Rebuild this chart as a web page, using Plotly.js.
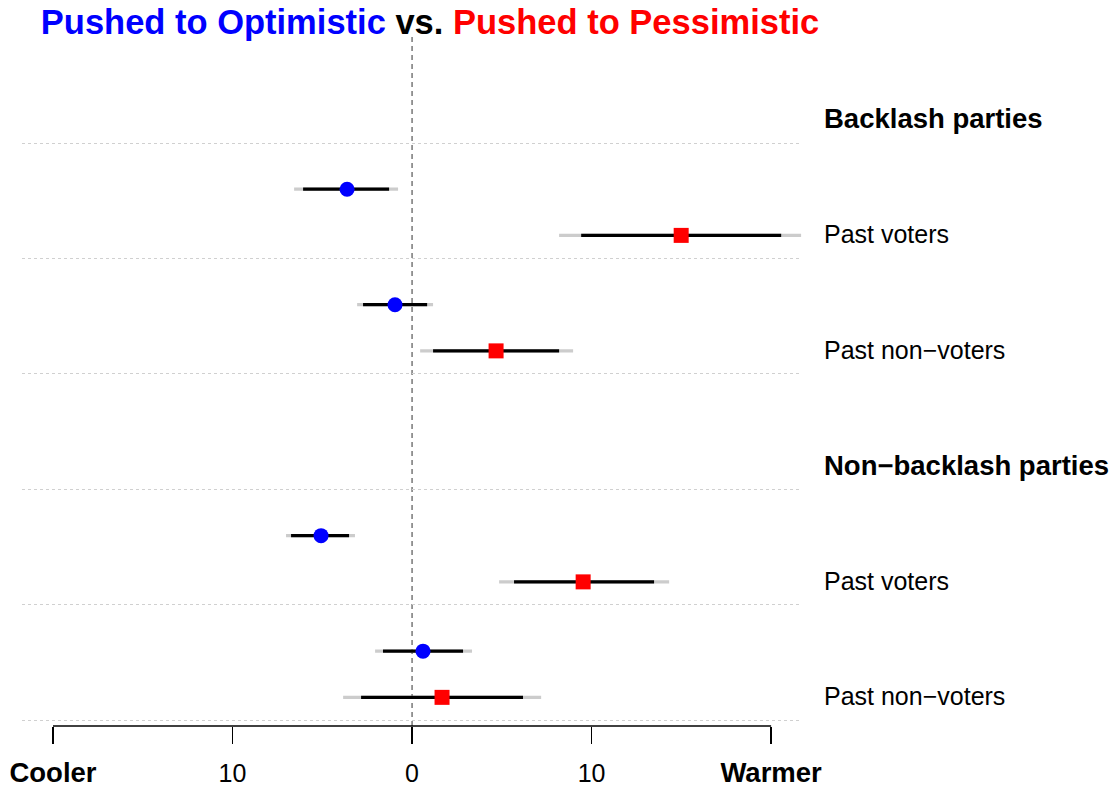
<!DOCTYPE html>
<html>
<head>
<meta charset="utf-8">
<script src="https://cdn.plot.ly/plotly-3.0.1.min.js"></script>
<style>html,body{margin:0;padding:0;background:#fff;}#chart{width:1116px;height:788px;}</style>
</head>
<body>
<div id="chart"></div>
<script>
// ---- data ----
var groupLabels = ["Backlash parties", "Non\u2212backlash parties"];
var rowLabels = ["Past voters", "Past non\u2212voters", "Past voters", "Past non\u2212voters"];
var rowSection = [0, 1, 3, 4];          // section slot of each row (slot 2 holds the 2nd group heading)

// Pushed to Optimistic (blue)
var optEst  = [-3.62, -0.95, -5.07, 0.61];
var optLo90 = [-6.07, -2.73, -6.74, -1.62];
var optHi90 = [-1.28,  0.84, -3.51,  2.84];
var optLo95 = [-6.57, -3.06, -7.02, -2.06];
var optHi95 = [-0.78,  1.17, -3.18,  3.34];

// Pushed to Pessimistic (red)
var pesEst  = [14.99, 4.68,  9.53, 1.67];
var pesLo90 = [ 9.42, 1.17,  5.68, -2.84];
var pesHi90 = [20.56, 8.19, 13.48,  6.18];
var pesLo95 = [ 8.19, 0.45,  4.85, -3.84];
var pesHi95 = [21.67, 8.97, 14.32,  7.19];

var tickVals = [-20, -10, 0, 10, 20];
var tickText = ['<b style="font-size:27.5px">Cooler</b>', "10", "0", "10", '<b style="font-size:27.5px">Warmer</b>'];

// ---- build ----
var FONT = "Liberation Sans, Arial, Helvetica, sans-serif";
var yOpt = rowSection.map(function(s){ return 5*s + 2; });
var yPes = rowSection.map(function(s){ return 5*s + 4; });

function segs(lo, hi, ys){
  var x = [], y = [];
  for (var i = 0; i < lo.length; i++){ x.push(lo[i], hi[i], null); y.push(ys[i], ys[i], null); }
  return {x: x, y: y};
}
var traces = [];
function addCI(lo, hi, ys, color){
  var s = segs(lo, hi, ys);
  traces.push({x: s.x, y: s.y, mode: "lines", line: {color: color, width: 3.3}, hoverinfo: "skip", showlegend: false, cliponaxis: false});
}
addCI(optLo95, optHi95, yOpt, "#cccccc");
addCI(pesLo95, pesHi95, yPes, "#cccccc");
addCI(optLo90, optHi90, yOpt, "#000000");
addCI(pesLo90, pesHi90, yPes, "#000000");
traces.push({x: optEst, y: yOpt, mode: "markers", marker: {symbol: "circle", size: 15, color: "#0000ff"}, showlegend: false, cliponaxis: false});
traces.push({x: pesEst, y: yPes, mode: "markers", marker: {symbol: "square", size: 15, color: "#ff0000"}, showlegend: false, cliponaxis: false});

var annotations = [];
rowLabels.forEach(function(t, i){
  annotations.push({text: t, xref: "paper", x: 1.0255, xanchor: "left", yref: "y", y: yPes[i] - 0.05, yanchor: "middle",
    showarrow: false, font: {family: FONT, size: 25, color: "#000"}});
});
var groupY = [-1.05, 13.95];
groupLabels.forEach(function(t, i){
  annotations.push({text: "<b>" + t + "</b>", xref: "paper", x: 1.0255, xanchor: "left", yref: "y", y: groupY[i], yanchor: "middle",
    showarrow: false, font: {family: FONT, size: 27.5, color: "#000"}});
});

var layout = {
  width: 1116, height: 788,
  margin: {l: 22, r: 314, t: 40, b: 62},
  paper_bgcolor: "#fff", plot_bgcolor: "#fff",
  font: {family: FONT, color: "#000"},
  title: {
    text: '<span style="color:#0000ff">Pushed to Optimistic</span> vs. <span style="color:#ff0000">Pushed to Pessimistic</span>',
    font: {family: FONT, size: 34.5, weight: "bold", color: "#000"},
    xref: "container", x: 430/1116, xanchor: "center",
    yref: "container", y: 1 - 22/788, yanchor: "middle"
  },
  xaxis: {
    range: [-21.727, 21.72], showgrid: false, zeroline: false, showline: false,
    tickmode: "array", tickvals: tickVals, ticktext: tickText,
    ticks: "outside", ticklen: 17, tickwidth: 1.6, tickcolor: "#000",
    tickfont: {family: FONT, size: 25, color: "#000"}, ticklabelstandoff: 8,
    fixedrange: true
  },
  yaxis: {
    range: [25.24, -4.459], showticklabels: false, ticks: "",
    tickmode: "array", tickvals: [0, 5, 10, 15, 20, 25],
    showgrid: true, gridcolor: "#d0d0d0", griddash: "dot", gridwidth: 1,
    zeroline: false, showline: false, fixedrange: true
  },
  shapes: [
    {type: "line", xref: "x", x0: 0, x1: 0, yref: "paper", y0: 0, y1: 1.005, line: {color: "#555", width: 1.2, dash: "5px,4px"}, layer: "below"},
    {type: "line", xref: "x", x0: -20, x1: 20, yref: "paper", y0: 0, y1: 0, line: {color: "#000", width: 1.6}}
  ],
  annotations: annotations,
  showlegend: false
};

Plotly.newPlot("chart", traces, layout, {displayModeBar: false, staticPlot: true});
</script>
</body>
</html>
